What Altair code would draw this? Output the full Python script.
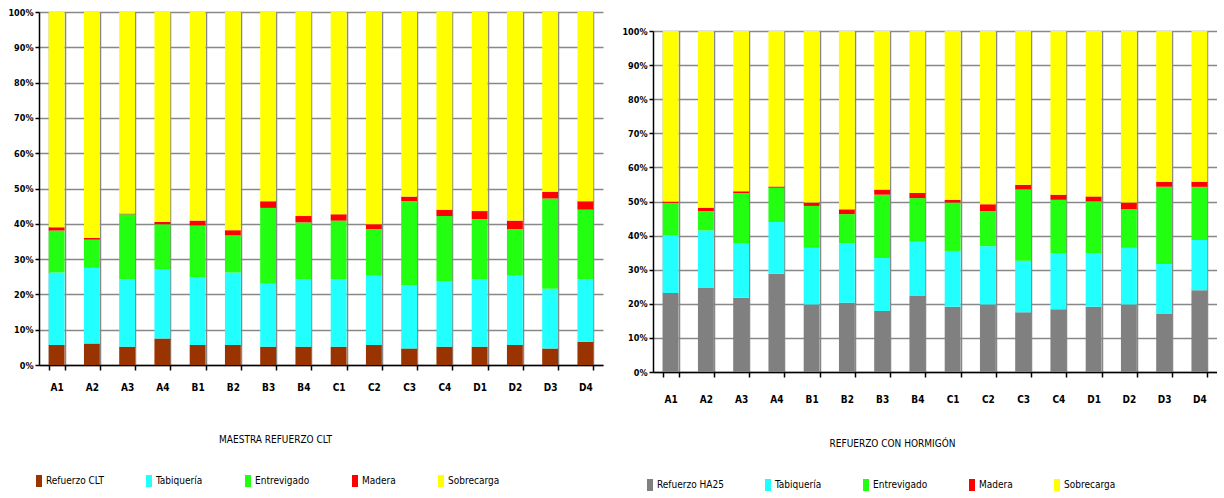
import altair as alt
import pandas as pd

# Sample labels along the x axis
samples = ["A1", "A2", "A3", "A4", "B1", "B2", "B3", "B4",
           "C1", "C2", "C3", "C4", "D1", "D2", "D3", "D4"]

# Load components (percent of total) for the CLT reinforcement
clt_names = ["Refuerzo CLT", "Tabiquería", "Entrevigado", "Madera", "Sobrecarga"]
clt_refuerzo = [5.7, 6.1, 5.2, 7.5, 5.7, 5.7, 5.2, 5.2, 5.2, 5.7, 4.7, 5.2, 5.2, 5.7, 4.7, 6.6]
clt_tabiqueria = [20.5, 21.4, 19.1, 19.7, 19.2, 20.5, 17.8, 19.1, 19.1, 19.6, 17.9, 18.6, 19.1, 19.6, 16.9, 17.7]
clt_entrevigado = [11.9, 8.0, 18.4, 12.7, 14.6, 10.5, 21.5, 16.1, 16.6, 13.2, 23.8, 18.4, 17.0, 13.2, 25.6, 19.7]
clt_madera = [0.9, 0.5, 0.2, 0.6, 1.4, 1.5, 1.9, 1.8, 1.8, 1.4, 1.3, 1.8, 2.3, 2.4, 1.9, 2.4]
clt_sobrecarga = [61.0, 64.0, 57.1, 59.5, 59.1, 61.8, 53.6, 57.8, 57.3, 60.1, 52.3, 56.0, 56.4, 59.1, 50.9, 53.6]

# Load components (percent of total) for the concrete reinforcement
ha_names = ["Refuerzo HA25", "Tabiquería", "Entrevigado", "Madera", "Sobrecarga"]
ha_refuerzo = [23.2, 24.6, 21.8, 28.8, 19.8, 20.3, 17.9, 22.3, 19.1, 19.8, 17.5, 18.4, 19.1, 19.8, 17.0, 24.0]
ha_tabiqueria = [16.9, 16.9, 15.9, 15.2, 16.6, 17.4, 15.5, 15.9, 16.4, 17.1, 15.1, 16.5, 15.8, 16.6, 14.7, 14.7]
ha_entrevigado = [9.5, 5.7, 14.8, 10.0, 12.3, 8.6, 18.6, 12.8, 14.2, 10.3, 20.9, 15.6, 15.1, 11.3, 22.6, 15.6]
ha_madera = [0.4, 1.0, 0.5, 0.4, 1.0, 1.4, 1.5, 1.5, 0.8, 2.0, 1.4, 1.5, 1.5, 2.0, 1.5, 1.5]
ha_sobrecarga = [50.0, 51.8, 47.0, 45.6, 50.3, 52.3, 46.5, 47.5, 49.5, 50.8, 45.1, 48.0, 48.5, 50.3, 44.2, 44.2]

clt_colors = ["#993300", "#22FFFF", "#22FF11", "#FF0000", "#FFFF00"]
ha_colors = ["#808080", "#22FFFF", "#22FF11", "#FF0000", "#FFFF00"]

FONT = "'DejaVu Sans Condensed', 'Liberation Sans', sans-serif"


def long_table(names, columns):
    rows = []
    for k, (name, vals) in enumerate(zip(names, columns)):
        for s, v in zip(samples, vals):
            rows.append({"muestra": s, "serie": name, "valor": v, "orden": k})
    return pd.DataFrame(rows)


def panel(df, names, colors, title, height, label_pad, title_x, title_y,
          legend_x, legend_y, col_pad):
    return alt.Chart(df).mark_bar().encode(
        x=alt.X(
            "muestra:N", sort=samples,
            scale=alt.Scale(paddingInner=0.55, paddingOuter=0.275),
            axis=alt.Axis(
                title=title, labelAngle=0, tickBand="extent", grid=True,
                gridColor="#888888", gridWidth=1.5,
                domainColor="#000000", domainWidth=1.5,
                tickColor="#000000", tickWidth=1.5, tickSize=5,
                labelFont=FONT, labelFontSize=10, labelFontWeight="bold",
                labelColor="#000000", labelPadding=label_pad,
                titleFont=FONT, titleFontSize=10, titleFontWeight="normal",
                titleColor="#000000", titleX=title_x, titleY=title_y,
                titleAlign="center", titleBaseline="middle",
            ),
        ),
        y=alt.Y(
            "valor:Q", stack="normalize",
            scale=alt.Scale(domain=[0, 1], nice=False),
            axis=alt.Axis(
                title=None, format=".0%",
                values=[i / 10 for i in range(11)],
                gridColor="#888888", gridWidth=1.5,
                domainColor="#000000", domainWidth=1.5,
                tickColor="#000000", tickWidth=1.5, tickSize=4,
                labelFont=FONT, labelFontSize=9, labelFontWeight="bold",
                labelColor="#000000", labelPadding=2,
            ),
        ),
        color=alt.Color(
            "serie:N",
            scale=alt.Scale(domain=names, range=colors),
            legend=alt.Legend(
                title=None, orient="none", direction="horizontal",
                legendX=legend_x, legendY=legend_y,
                symbolType="M-0.5,-1H0.5V1H-0.5Z", symbolSize=144,
                symbolStrokeWidth=0, symbolOpacity=1,
                labelFont=FONT, labelFontSize=10, labelColor="#000000",
                labelOffset=1, columnPadding=col_pad,
            ),
        ),
        order=alt.Order("orden:Q"),
    ).properties(width=564, height=height)


left = panel(
    long_table(clt_names, [clt_refuerzo, clt_tabiqueria, clt_entrevigado, clt_madera, clt_sobrecarga]),
    clt_names, clt_colors, "MAESTRA REFUERZO CLT",
    height=353, label_pad=12, title_x=236, title_y=74,
    legend_x=-6, legend_y=463, col_pad=39,
)
right = panel(
    long_table(ha_names, [ha_refuerzo, ha_tabiqueria, ha_entrevigado, ha_madera, ha_sobrecarga]),
    ha_names, ha_colors, "REFUERZO CON HORMIGÓN",
    height=341, label_pad=17, title_x=239, title_y=71,
    legend_x=-9, legend_y=467, col_pad=38,
)

# empty strip that lowers the second panel under the first one's top edge
strip = alt.Chart(pd.DataFrame({"v": [0]})).mark_point(opacity=0).encode(
    x=alt.value(0), y=alt.value(0)
).properties(width=10, height=1)

chart = alt.hconcat(
    left,
    alt.vconcat(strip, right, spacing=12),
    spacing=18,
).resolve_scale(
    color="independent", x="independent", y="independent"
).configure_view(stroke=None).properties(
    padding={"left": 7, "top": 8, "right": 0, "bottom": 0},
)

chart.save("out.html", embed_options={"renderer": "svg", "actions": False})
